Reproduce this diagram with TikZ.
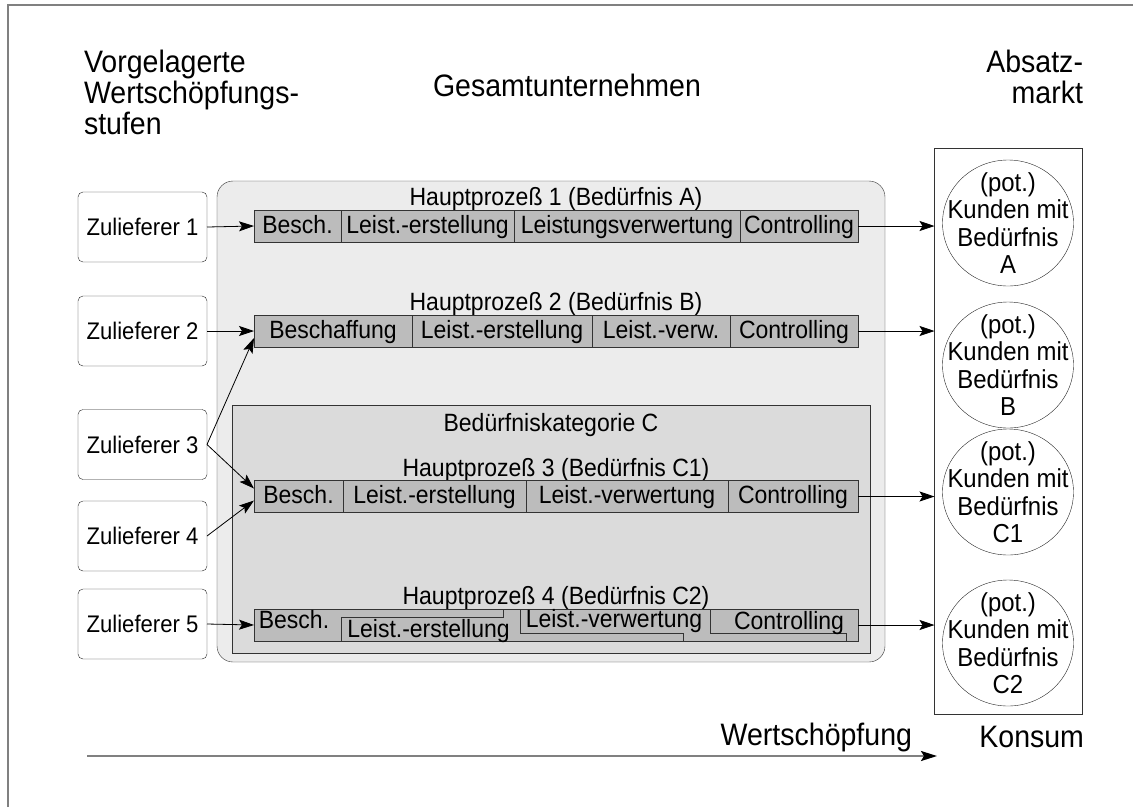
\documentclass[tikz,border=0pt]{standalone}
\usepackage{fontspec}
\setmainfont{Liberation Sans}[FakeStretch=0.92]
\usetikzlibrary{arrows.meta,shapes.geometric,calc}
\definecolor{bigfill}{HTML}{ECECEC}
\definecolor{cfill}{HTML}{DBDBDB}
\definecolor{segfill}{HTML}{BCBCBC}
\definecolor{framegray}{HTML}{808080}
\begin{document}
\begin{tikzpicture}[x=1pt,y=-1pt,
 every node/.style={inner sep=0pt, outer sep=0pt},
 txt/.style={font=\fontsize{25}{27}\selectfont},
 head/.style={font=\fontsize{31}{31}\selectfont},
 supp/.style={draw=black!85, rounded corners=5pt, minimum width=129pt, minimum height=70pt, font=\fontsize{24}{26}\selectfont, fill=white},
 seg/.style={draw=black!80, fill=segfill, minimum height=32pt, text height=17pt, text depth=3pt, font=\fontsize{25}{27}\selectfont},
 arr/.style={draw=black, line width=0.8pt, -{Stealth[length=15pt,width=10pt,inset=3pt]}},
 kunde/.style={draw=black!85, ellipse, minimum width=131pt, minimum height=126pt, fill=white},
 ktext/.style={align=center, font=\fontsize{26}{27.5}\selectfont},
 bigbox/.style={draw=black!80, fill=bigfill, rounded corners=16pt},
 cbox/.style={draw=black!80, fill=cfill},
]
\useasboundingbox (0,0) rectangle (1133,807);
% frame
\draw[framegray, line width=2pt] (8,807) -- (8,5) -- (1133,5);

% headings
\node[head, align=left, anchor=north west] (hvor) at (84,50.5) {Vorgelagerte\\Wertschöpfungs-\\stufen};
\node[head, anchor=base] (hges) at (567,96) {Gesamtunternehmen};
\node[head, align=right, anchor=north east] (habs) at (1083,50.5) {Absatz-\\markt};

% big boxes
\node[bigbox, minimum width=668pt, minimum height=481pt] (gesamt) at (551,421.5) {};
\node[cbox, minimum width=638pt, minimum height=248pt] (kat) at (551,529) {};

% suppliers
\node[supp] (z1) at (142.5,227) {Zulieferer 1};
\node[supp] (z2) at (142.5,331) {Zulieferer 2};
\node[supp] (z3) at (142.5,444.5) {Zulieferer 3};
\node[supp] (z4) at (142.5,536) {Zulieferer 4};
\node[supp] (z5) at (142.5,624) {Zulieferer 5};

% row 1
\node[txt, anchor=base] (l1) at (556,205) {Hauptprozeß 1 (Bedürfnis A)};
\node[seg, minimum width=87pt] (a1) at (297.5,226) {Besch.};
\node[seg, minimum width=173pt] (a2) at (427.5,226) {Leist.-erstellung};
\node[seg, minimum width=226pt] (a3) at (627,226) {Leistungsverwertung};
\node[seg, minimum width=118pt] (a4) at (799,226) {Controlling};

% row 2
\node[txt, anchor=base] (l2) at (556,310) {Hauptprozeß 2 (Bedürfnis B)};
\node[seg, minimum width=158pt] (b1) at (333,331) {Beschaffung};
\node[seg, minimum width=180pt] (b2) at (502,331) {Leist.-erstellung};
\node[seg, minimum width=138pt] (b3) at (661,331) {Leist.-verw.};
\node[seg, minimum width=128pt] (b4) at (794,331) {Controlling};

% category C
\node[txt, anchor=base] (lk) at (551,431) {Bedürfniskategorie C};
\node[txt, anchor=base] (l3) at (556,476) {Hauptprozeß 3 (Bedürfnis C1)};
\node[seg, minimum width=89pt] (c1) at (298.5,496.5) {Besch.};
\node[seg, minimum width=183pt] (c2) at (434.5,496.5) {Leist.-erstellung};
\node[seg, minimum width=202pt] (c3) at (627,496.5) {Leist.-verwertung};
\node[seg, minimum width=130pt] (c4) at (793,496.5) {Controlling};

% row 4
\node[txt, anchor=base] (l4) at (556,604) {Hauptprozeß 4 (Bedürfnis C2)};
\node[seg, minimum width=604pt] (d0) at (556,625) {};
\draw[black!80] (341,641) -- (341,617) -- (503,617) -- (503,609);
\draw[black!80] (520,609) -- (520,633) -- (683,633) -- (683,641);
\draw[black!80] (710,609) -- (710,633) -- (846,633) -- (846,641);
\node[txt, anchor=base] (d1) at (294,628) {Besch.};
\node[txt, anchor=base] (d2) at (428.5,637) {Leist.-erstellung};
\node[txt, anchor=base] (d3) at (614,627) {Leist.-verwertung};
\node[txt, anchor=base] (d4) at (789,629) {Controlling};

% market
\node[draw=black!80, minimum width=148pt, minimum height=566pt] (markt) at (1008.5,431) {};
\node[kunde] (kA) at (1008,223) {};
\node[ktext] (tA) at (kA) {(pot.)\\Kunden mit\\Bedürfnis\\A};
\node[kunde] (kB) at (1008,365) {};
\node[ktext] (tB) at (kB) {(pot.)\\Kunden mit\\Bedürfnis\\B};
\node[kunde] (kC1) at (1008,492) {};
\node[ktext] (tC1) at (kC1) {(pot.)\\Kunden mit\\Bedürfnis\\C1};
\node[kunde] (kC2) at (1008,643) {};
\node[ktext] (tC2) at (kC2) {(pot.)\\Kunden mit\\Bedürfnis\\C2};

% supplier arrows
\draw[arr] (z1.east) -- (a1.west);
\draw[arr] (z2.east) -- (b1.west);
\draw[arr] (z3.east) -- ($(b1.west)+(0,7)$);
\draw[arr] (z3.east) -- ($(c1.west)+(0,-8)$);
\draw[arr] (z4.east) -- ($(c1.west)+(0,4)$);
\draw[arr] (z5.east) -- (d0.west);

% market arrows
\draw[arr] (a4.east) -- (a4.east -| markt.west);
\draw[arr] (b4.east) -- (b4.east -| markt.west);
\draw[arr] (c4.east) -- (c4.east -| markt.west);
\draw[arr] (d0.east) -- (d0.east -| markt.west);

% bottom
\node[head, anchor=base east] (wert) at (912,745) {Wertschöpfung};
\node[head, anchor=base east] (kons) at (1084,747) {Konsum};
\coordinate (w0) at (87,756);
\coordinate (w1) at (937,756);
\draw[framegray, line width=2pt, -{Stealth[length=16pt,width=10pt,inset=3pt,color=black]}] (w0) -- (w1);
\end{tikzpicture}
\end{document}
